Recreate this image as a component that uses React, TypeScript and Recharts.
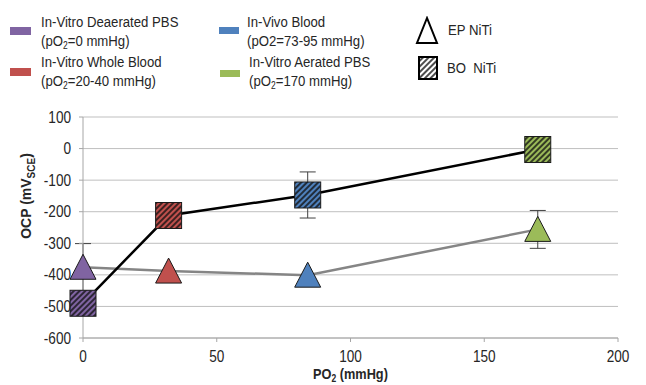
import { ComposedChart, Scatter, XAxis, YAxis, CartesianGrid, ErrorBar } from 'recharts';

// conditions, in order of increasing oxygen partial pressure
const conditions = ['In-Vitro Deaerated PBS', 'In-Vitro Whole Blood', 'In-Vivo Blood', 'In-Vitro Aerated PBS'];
const conditionNotes = ['=0 mmHg', '=20-40 mmHg', '=73-95 mmHg', '=170 mmHg'];
const noteSubscript = [true, true, false, true];
const conditionColors = ['#8064A2', '#C0504D', '#4F81BD', '#9BBB59'];

const po2 = [0, 32, 84, 170];
const epOcp = [-376, -388, -401, -256];
const epErr = [75, 0, 0, 60];
const boOcp = [-490, -212, -147, -3];
const boErr = [0, 0, 73, 0];

const xTicks = [0, 50, 100, 150, 200];
const yTicks = [-600, -500, -400, -300, -200, -100, 0, 100];

const epData = po2.map((x, i) => ({ po2: x, ocp: epOcp[i], err: epErr[i], color: conditionColors[i], key: `ep${i}` }));
const boData = po2.map((x, i) => ({ po2: x, ocp: boOcp[i], err: boErr[i], color: conditionColors[i], key: `bo${i}` }));

const FONT = '"Liberation Sans", Arial, sans-serif';
const SQUEEZE = 0.85;

function Triangle(props: any) {
  const { cx, cy, payload } = props;
  if (cx == null || cy == null) return null;
  const pts = `${cx},${cy - 13} ${cx - 13},${cy + 12} ${cx + 13},${cy + 12}`;
  return <polygon points={pts} fill={payload.color} stroke="#1a1a1a" strokeWidth={1} />;
}

function HatchDefs({ id, color }: { id: string; color: string }) {
  return (
    <defs>
      <pattern id={id} patternUnits="userSpaceOnUse" width={4} height={4} patternTransform="rotate(45)">
        <rect width={4} height={4} fill={color} />
        <line x1={2} y1={0} x2={2} y2={4} stroke="#111" strokeWidth={1.5} />
      </pattern>
    </defs>
  );
}

function HatchSquare(props: any) {
  const { cx, cy, payload } = props;
  if (cx == null || cy == null) return null;
  const id = `hatch-${payload.key}`;
  return (
    <g>
      <HatchDefs id={id} color={payload.color} />
      <rect x={cx - 13} y={cy - 13} width={26} height={26} fill={`url(#${id})`} stroke="#1a1a1a" strokeWidth={1} />
    </g>
  );
}

// error bars go in their own hidden series so the markers sit on top of them
const NoMark = () => null;

function XTick(props: any) {
  const { x, y, payload } = props;
  return (
    <text transform={`translate(${x},${y + 18}) scale(${SQUEEZE},1)`} textAnchor="middle" fontSize={16} fill="#262626" fontFamily={FONT}>
      {payload.value}
    </text>
  );
}

function YTick(props: any) {
  const { x, y, payload } = props;
  return (
    <text transform={`translate(${x - 6},${y + 5.5}) scale(${SQUEEZE},1)`} textAnchor="end" fontSize={16} fill="#262626" fontFamily={FONT}>
      {payload.value}
    </text>
  );
}

function YTitle(props: any) {
  const vb = props.viewBox || { x: 0 };
  return (
    <text transform={`translate(${vb.x + 31},196) rotate(-90)`} textAnchor="middle" fontSize={14} fontWeight="bold" fill="#262626" fontFamily={FONT}>
      OCP (mV<tspan dy={4} fontSize={10}>SCE</tspan><tspan dy={-4}>)</tspan>
    </text>
  );
}

function XTitle(props: any) {
  const vb = props.viewBox || { x: 83, y: 338, width: 535 };
  return (
    <text transform={`translate(${vb.x + vb.width / 2},${vb.y + 41}) scale(${SQUEEZE},1)`} textAnchor="middle" fontSize={15} fontWeight="bold" fill="#262626" fontFamily={FONT}>
      PO<tspan dy={3} fontSize={10}>2</tspan><tspan dy={-3}> (mmHg)</tspan>
    </text>
  );
}

const legendSpots = [
  { sw: [10, 27, 21, 8], tx: [41, 13] },
  { sw: [10, 68, 21, 8], tx: [41, 53] },
  { sw: [219, 27, 20, 7], tx: [247, 13] },
  { sw: [220, 70, 20, 7], tx: [249, 53] },
];

const textStyle: React.CSSProperties = {
  position: 'absolute',
  fontFamily: FONT,
  fontSize: 15.5,
  lineHeight: '18.5px',
  color: '#262626',
  transform: `scaleX(${SQUEEZE})`,
  transformOrigin: 'left top',
  whiteSpace: 'pre',
};

function LegendBlock() {
  return (
    <>
      {conditions.map((name, i) => {
        const s = legendSpots[i];
        return (
          <div key={name}>
            <div style={{ position: 'absolute', left: s.sw[0], top: s.sw[1], width: s.sw[2], height: s.sw[3], background: conditionColors[i] }} />
            <div style={{ ...textStyle, left: s.tx[0], top: s.tx[1] }}>
              {name}
              <br />
              (pO{noteSubscript[i] ? <sub style={{ fontSize: 10, lineHeight: 0, verticalAlign: '-3px' }}>2</sub> : '2'}
              {conditionNotes[i]})
            </div>
          </div>
        );
      })}
      <svg style={{ position: 'absolute', left: 414, top: 16 }} width={26} height={30}>
        <polygon points="13,2 3,27 23,27" fill="#fff" stroke="#000" strokeWidth={2} />
      </svg>
      <div style={{ ...textStyle, left: 448, top: 21 }}>EP NiTi</div>
      <svg style={{ position: 'absolute', left: 417, top: 55 }} width={24} height={28}>
        <HatchDefs id="hatch-legend" color="#fff" />
        <rect x={2} y={2} width={18} height={22} fill="url(#hatch-legend)" stroke="#000" strokeWidth={2} />
      </svg>
      <div style={{ ...textStyle, left: 447, top: 59 }}>{'BO  NiTi'}</div>
    </>
  );
}

export default function App() {
  return (
    <div style={{ position: 'absolute', left: 0, top: 0, width: 646, height: 385, background: '#fff' }}>
      <ComposedChart width={646} height={385} margin={{ top: 117, right: 28, bottom: 0, left: 0 }}>
        <CartesianGrid vertical={false} stroke="#BFBFBF" strokeWidth={1} />
        <XAxis
          type="number"
          dataKey="po2"
          domain={[0, 200]}
          ticks={xTicks}
          height={47}
          axisLine={{ stroke: '#A6A6A6' }}
          tickLine={{ stroke: '#A6A6A6' }}
          tickSize={4}
          tick={<XTick />}
          label={{ content: <XTitle /> }}
        />
        <YAxis
          type="number"
          dataKey="ocp"
          domain={[-600, 100]}
          ticks={yTicks}
          width={83}
          axisLine={{ stroke: '#A6A6A6' }}
          tickLine={{ stroke: '#A6A6A6' }}
          tickSize={4}
          tick={<YTick />}
          label={{ content: <YTitle /> }}
        />
        <Scatter name="EP err" data={epData} shape={<NoMark />} isAnimationActive={false} legendType="none">
          <ErrorBar dataKey="err" direction="y" width={8} stroke="#404040" strokeWidth={1} />
        </Scatter>
        <Scatter name="BO err" data={boData} shape={<NoMark />} isAnimationActive={false} legendType="none">
          <ErrorBar dataKey="err" direction="y" width={8} stroke="#404040" strokeWidth={1} />
        </Scatter>
        <Scatter
          name="EP NiTi"
          data={epData}
          line={{ stroke: '#858585', strokeWidth: 2.5 }}
          shape={<Triangle />}
          isAnimationActive={false}
        />
        <Scatter
          name="BO NiTi"
          data={boData}
          line={{ stroke: '#000', strokeWidth: 2.5 }}
          shape={<HatchSquare />}
          isAnimationActive={false}
        />
      </ComposedChart>
      <LegendBlock />
    </div>
  );
}
